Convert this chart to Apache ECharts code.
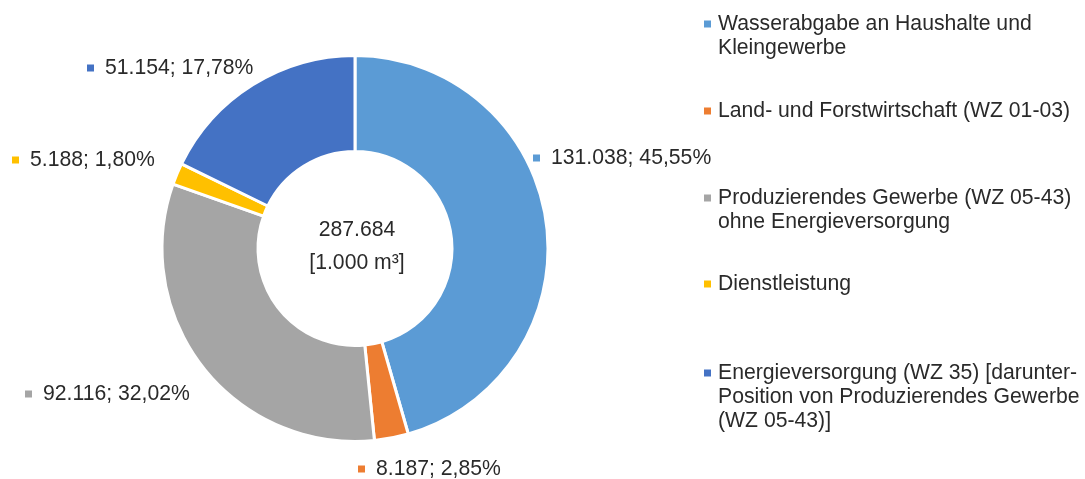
<!DOCTYPE html>
<html><head><meta charset="utf-8">
<script src="https://cdn.jsdelivr.net/npm/echarts@6/dist/echarts.min.js"></script>
<style>html,body{margin:0;padding:0;background:#fff}#c{width:1085px;height:479px}</style>
</head><body><div id="c"></div>
<script>
// ---- data ----
const categories = [
  'Wasserabgabe an Haushalte und Kleingewerbe',
  'Land- und Forstwirtschaft (WZ 01-03)',
  'Produzierendes Gewerbe (WZ 05-43) ohne Energieversorgung',
  'Dienstleistung',
  'Energieversorgung (WZ 35) [darunter-Position von Produzierendes Gewerbe (WZ 05-43)]'
];
const legendLines = [
  ['Wasserabgabe an Haushalte und', 'Kleingewerbe'],
  ['Land- und Forstwirtschaft (WZ 01-03)'],
  ['Produzierendes Gewerbe (WZ 05-43)', 'ohne Energieversorgung'],
  ['Dienstleistung'],
  ['Energieversorgung (WZ 35) [darunter-', 'Position von Produzierendes Gewerbe', '(WZ 05-43)]']
];
const values = [131038, 8187, 92116, 5188, 51154];
const totalValue = 287684;
const unitLabel = '[1.000 m³]';

// ---- style ----
const colors = ['#5B9BD5', '#ED7D31', '#A5A5A5', '#FFC000', '#4472C4'];
const FONT = '"Liberation Sans", Arial, sans-serif';
const TXT = '#2a2a2a';
const FS = 21.2;

function fmtInt(v) { return String(v).replace(/\B(?=(\d{3})+(?!\d))/g, '.'); }
const sum = values.reduce((a, b) => a + b, 0);
function fmtPct(v) { return (v / sum * 100).toFixed(2).replace('.', ',') + '%'; }

// label anchors (left edge of marker, vertical middle)
const labelAnchors = [[533, 158], [358, 469], [25, 394], [12, 160], [87, 68]];
const legendTops = [12, 99, 186, 272, 361];

const labelRich = { t: { fontSize: FS, fontFamily: FONT, color: TXT, padding: [0, 0, 0, 11], lineHeight: 24, verticalAlign: 'middle' } };
colors.forEach((c, i) => { labelRich['m' + i] = { width: 7, height: 7, backgroundColor: c, verticalAlign: 'middle' }; });

const legends = categories.map((name, i) => ({
  data: [name],
  left: 698,
  top: legendTops[i],
  padding: 0,
  itemWidth: 0,
  itemHeight: 0,
  selectedMode: false,
  formatter: n => legendLines[i].map((ln, k) => (k === 0 ? '{m|}' : '{s|}') + '{t|' + ln + '}').join('\n'),
  textStyle: {
    fontSize: FS, fontFamily: FONT, color: TXT, lineHeight: 24,
    rich: {
      m: { width: 7, height: 7, backgroundColor: colors[i], verticalAlign: 'middle' },
      s: { width: 7, height: 7, verticalAlign: 'middle' },
      t: { fontSize: FS, fontFamily: FONT, color: TXT, padding: [0, 0, 0, 7], lineHeight: 24, verticalAlign: 'middle' }
    }
  }
}));

const chart = echarts.init(document.getElementById('c'), null, { renderer: 'canvas' });
chart.setOption({
  animation: false,
  color: colors,
  legend: legends,
  graphic: [{
    type: 'text', x: 357, y: 214,
    style: { text: fmtInt(totalValue) + '\n' + unitLabel, fontSize: FS, fontFamily: FONT, fill: TXT, align: 'center', verticalAlign: 'top', lineHeight: 33 }
  }],
  series: [{
    type: 'pie',
    center: [355, 248.5],
    radius: [97, 193],
    startAngle: 90,
    clockwise: true,
    avoidLabelOverlap: false,
    itemStyle: { borderColor: '#fff', borderWidth: 3 },
    label: {
      show: true, position: 'outside',
      formatter: p => '{m' + p.dataIndex + '|}{t|' + fmtInt(p.value) + '; ' + fmtPct(p.value) + '}',
      rich: labelRich
    },
    labelLine: { show: false },
    labelLayout: p => ({ x: labelAnchors[p.dataIndex][0], y: labelAnchors[p.dataIndex][1], align: 'left', verticalAlign: 'middle' }),
    emphasis: { disabled: true },
    data: categories.map((n, i) => ({ name: n, value: values[i] }))
  }]
});
</script></body></html>
